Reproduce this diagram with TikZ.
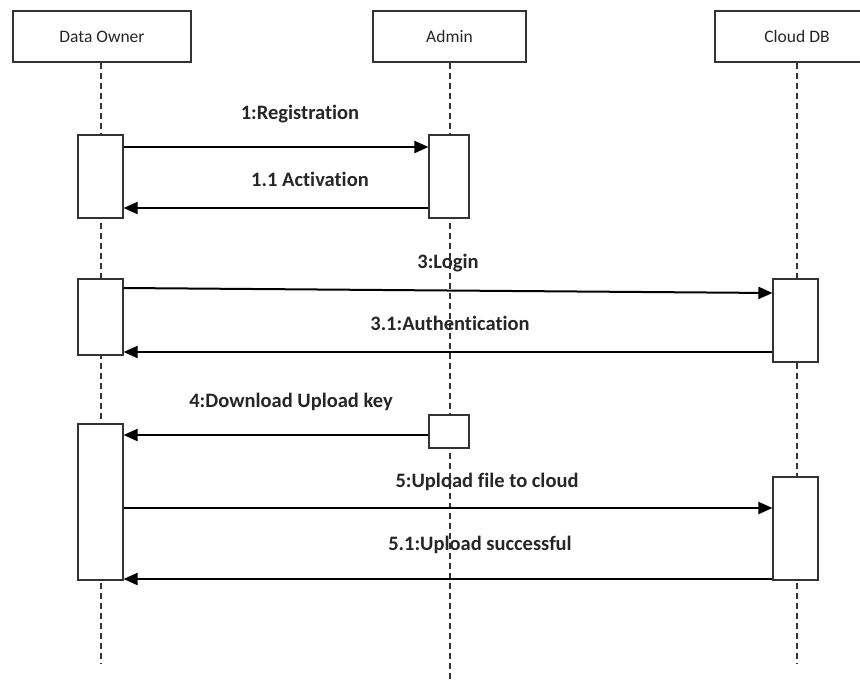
\documentclass[tikz,border=0pt]{standalone}
\usepackage{fontspec}
\setmainfont{Carlito}[Ligatures=NoCommon]
\usetikzlibrary{arrows.meta}
\begin{document}
\begin{tikzpicture}[x=1pt, y=-1pt,
  actor/.style={draw=black!80, line width=1.1pt, inner sep=0pt, minimum height=51pt, text=black!85, font=\fontsize{17.5}{20}\selectfont},
  lifeline/.style={draw=black!80, line width=1.1pt, dash pattern=on 6pt off 4pt},
  activation/.style={draw=black!80, fill=white, line width=1.1pt, inner sep=0pt, minimum width=45pt},
  msg/.style={draw=black, line width=2pt, -{Triangle[length=14pt,width=12pt]}},
  msglabel/.style={text=black!85, font=\bfseries\fontsize{20.5}{24}\selectfont}]
  \useasboundingbox (0,0) rectangle (860,681);
  % participants
  \node[actor, minimum width=178pt] (owner) at (102,36.5) {Data Owner};
  \node[actor, minimum width=153pt] (admin) at (449.5,36.5) {Admin};
  \node[actor, minimum width=164pt] (cloud) at (797,36.5) {Cloud DB};
  \coordinate (ownerend) at (101,663);
  \coordinate (adminend) at (450,681);
  \coordinate (cloudend) at (797,663);
  \draw[lifeline] (owner.south -| ownerend) -- (ownerend);
  \draw[lifeline] (admin.south -| adminend) -- (adminend);
  \draw[lifeline] (cloud.south -| cloudend) -- (cloudend);
  % activation boxes
  \node[activation, minimum height=83pt] (od1) at (100.5,176.5) {};
  \node[activation, minimum width=40pt, minimum height=83pt] (ad1) at (449,176.5) {};
  \node[activation, minimum height=76pt] (od2) at (100.5,317) {};
  \node[activation, minimum height=83pt] (cl1) at (795.5,320.5) {};
  \node[activation, minimum width=40pt, minimum height=33pt] (ad2) at (449,431.5) {};
  \node[activation, minimum height=156pt] (od3) at (100.5,502) {};
  \node[activation, minimum height=103pt] (cl2) at (795.5,528.5) {};
  % messages
  \draw[msg] (od1.east |- 0,147) -- (ad1.west |- 0,147);
  \draw[msg] (ad1.west |- 0,208) -- (od1.east |- 0,208);
  \draw[msg] (od2.east |- 0,288) -- (cl1.west |- 0,293);
  \draw[msg] (cl1.west |- 0,352) -- (od2.east |- 0,352);
  \draw[msg] (ad2.west |- 0,435) -- (od3.east |- 0,435);
  \draw[msg] (od3.east |- 0,508) -- (cl2.west |- 0,508);
  \draw[msg] (cl2.west |- 0,579) -- (od3.east |- 0,579);
  \node[msglabel] (lreg) at (300,114) {1:Registration};
  \node[msglabel] (lact) at (310,179) {1.1 Activation};
  \node[msglabel] (llogin) at (448,263) {3:Login};
  \node[msglabel] (lauth) at (450,323) {3.1:Authentication};
  \node[msglabel] (lkey) at (291,402) {4:Download Upload key};
  \node[msglabel] (lup) at (487,482) {5:Upload file to cloud};
  \node[msglabel] (lok) at (480,545) {5.1:Upload successful};
\end{tikzpicture}
\end{document}
